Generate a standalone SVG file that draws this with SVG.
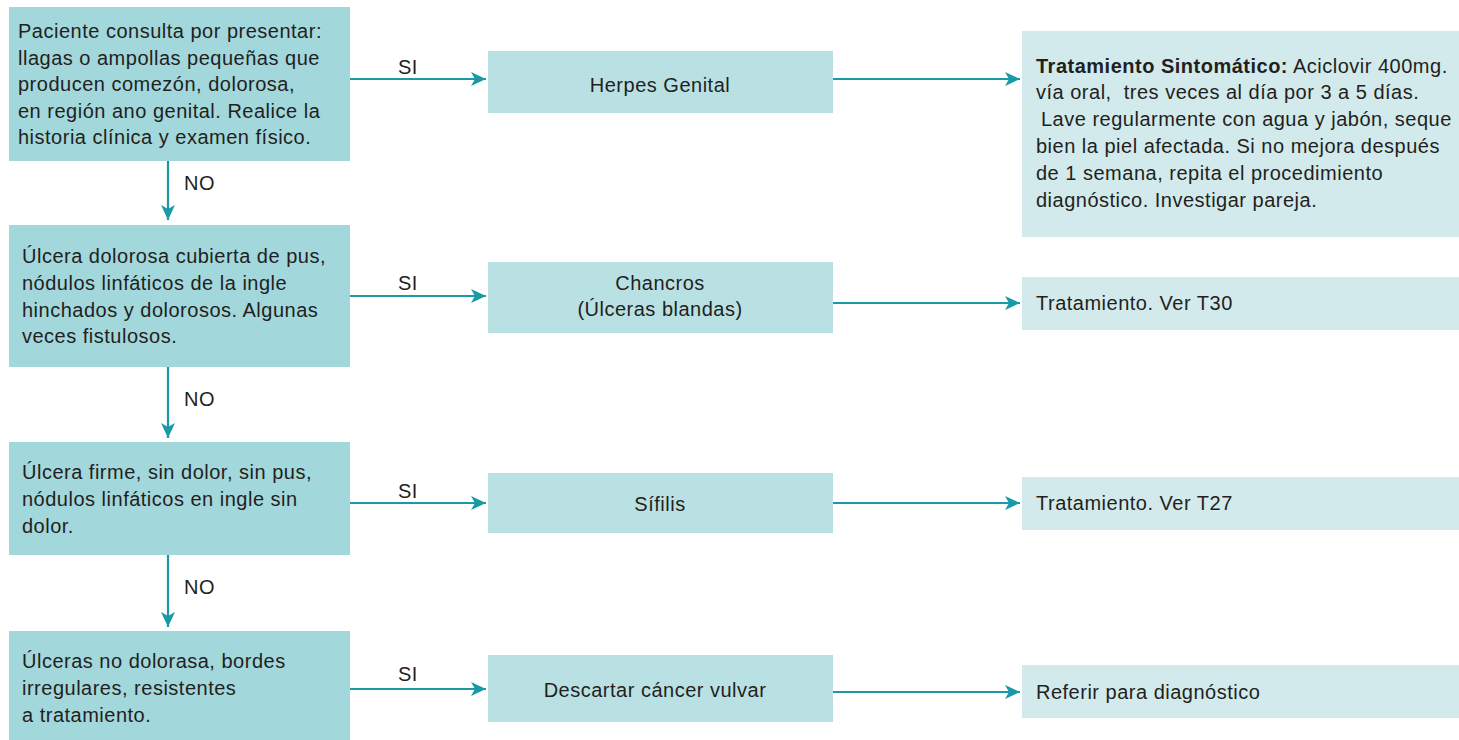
<svg xmlns="http://www.w3.org/2000/svg" width="1459" height="740" viewBox="0 0 1459 740">
<defs>
<style>
.l{fill:#a2d7dc}
.m{fill:#b9e1e3}
.r{fill:#d2eaec}
text{font-family:"Liberation Sans",Arial,sans-serif;font-size:20px;fill:#231f20;letter-spacing:0.5px}
.c{text-anchor:middle}
.b{font-weight:bold}
.e{stroke:#1a9aa6;stroke-width:2.2;fill:none;marker-end:url(#ah)}
</style>
<marker id="ah" markerUnits="userSpaceOnUse" markerWidth="16" markerHeight="14" refX="15" refY="7" orient="auto">
<path d="M0,0 L15,7 L0,14 L4,7 Z" fill="#1a9aa6"/>
</marker>
</defs>
<rect width="1459" height="740" fill="#fff"/>

<g id="connectors">
<line class="e" x1="350" y1="79" x2="486" y2="79"/>
<line class="e" x1="350" y1="296" x2="486" y2="296"/>
<line class="e" x1="350" y1="503" x2="486" y2="503"/>
<line class="e" x1="350" y1="689" x2="486" y2="689"/>
<line class="e" x1="833" y1="79" x2="1020" y2="79"/>
<line class="e" x1="833" y1="303" x2="1020" y2="303"/>
<line class="e" x1="833" y1="503" x2="1020" y2="503"/>
<line class="e" x1="833" y1="692" x2="1020" y2="692"/>
<line class="e" x1="168" y1="161" x2="168" y2="220"/>
<line class="e" x1="168" y1="367" x2="168" y2="438"/>
<line class="e" x1="168" y1="555" x2="168" y2="627"/>
<text x="398" y="74">SI</text>
<text x="398" y="290">SI</text>
<text x="398" y="498">SI</text>
<text x="398" y="681">SI</text>
<text x="184" y="190">NO</text>
<text x="184" y="406">NO</text>
<text x="184" y="594">NO</text>
</g>

<g id="q1">
<rect class="l" x="9" y="7" width="341" height="154"/>
<text x="18" y="38">Paciente consulta por presentar:</text>
<text x="18" y="65">llagas o ampollas pequeñas que</text>
<text x="18" y="91">producen comezón, dolorosa,</text>
<text x="18" y="118">en región ano genital. Realice la</text>
<text x="18" y="144">historia clínica y examen físico.</text>
</g>
<g id="q2">
<rect class="l" x="9" y="225" width="341" height="142"/>
<text x="22" y="263">Úlcera dolorosa cubierta de pus,</text>
<text x="22" y="290">nódulos linfáticos de la ingle</text>
<text x="22" y="317">hinchados y dolorosos. Algunas</text>
<text x="22" y="343">veces fistulosos.</text>
</g>
<g id="q3">
<rect class="l" x="9" y="442" width="341" height="113"/>
<text x="22" y="479">Úlcera firme, sin dolor, sin pus,</text>
<text x="22" y="506">nódulos linfáticos en ingle sin</text>
<text x="22" y="533">dolor.</text>
</g>
<g id="q4">
<rect class="l" x="9" y="631" width="341" height="109"/>
<text x="22" y="668">Úlceras no dolorasa, bordes</text>
<text x="22" y="695">irregulares, resistentes</text>
<text x="22" y="722">a tratamiento.</text>
</g>

<g id="d1">
<rect class="m" x="488" y="51" width="345" height="62"/>
<text class="c" x="660" y="92">Herpes Genital</text>
</g>
<g id="d2">
<rect class="m" x="488" y="262" width="345" height="71"/>
<text class="c" x="660" y="290">Chancros</text>
<text class="c" x="660" y="316">(Úlceras blandas)</text>
</g>
<g id="d3">
<rect class="m" x="488" y="473" width="345" height="60"/>
<text class="c" x="660" y="511">Sífilis</text>
</g>
<g id="d4">
<rect class="m" x="488" y="655" width="345" height="67"/>
<text class="c" x="655" y="697">Descartar cáncer vulvar</text>
</g>

<g id="t1">
<rect class="r" x="1022" y="31" width="437" height="206"/>
<text x="1036" y="73"><tspan class="b">Tratamiento Sintomático:</tspan> Aciclovir 400mg.</text>
<text x="1036" y="99" xml:space="preserve">vía oral,  tres veces al día por 3 a 5 días.</text>
<text x="1041" y="126">Lave regularmente con agua y jabón, seque</text>
<text x="1036" y="153">bien la piel afectada. Si no mejora después</text>
<text x="1036" y="180">de 1 semana, repita el procedimiento</text>
<text x="1036" y="207">diagnóstico. Investigar pareja.</text>
</g>
<g id="t2">
<rect class="r" x="1022" y="277" width="437" height="53"/>
<text x="1036" y="310">Tratamiento. Ver T30</text>
</g>
<g id="t3">
<rect class="r" x="1022" y="477" width="437" height="53"/>
<text x="1036" y="510">Tratamiento. Ver T27</text>
</g>
<g id="t4">
<rect class="r" x="1022" y="665" width="437" height="53"/>
<text x="1036" y="699">Referir para diagnóstico</text>
</g>
</svg>
